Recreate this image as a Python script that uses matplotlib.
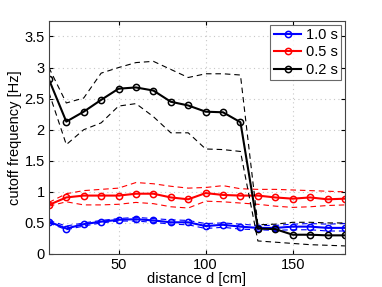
import numpy as np
import matplotlib
matplotlib.use("Agg")
import matplotlib.pyplot as plt

plt.rcParams['font.family'] = ['Liberation Sans', 'DejaVu Sans']

# distance d [cm]
distance = [10, 20, 30, 40, 50, 60, 70, 80, 90, 100, 110, 120, 130, 140, 150, 160, 170, 180]

# 1.0 s window
blue_mean = [0.52, 0.41, 0.48, 0.52, 0.55, 0.56, 0.54, 0.51, 0.51, 0.45, 0.47, 0.44, 0.42, 0.42, 0.44, 0.44, 0.42, 0.42]
blue_upper = [0.54, 0.45, 0.50, 0.54, 0.57, 0.59, 0.57, 0.55, 0.54, 0.49, 0.50, 0.48, 0.46, 0.46, 0.48, 0.49, 0.48, 0.49]
blue_lower = [0.50, 0.39, 0.45, 0.50, 0.53, 0.53, 0.51, 0.48, 0.47, 0.41, 0.43, 0.40, 0.39, 0.38, 0.39, 0.39, 0.37, 0.37]

# 0.5 s window
red_mean = [0.79, 0.91, 0.94, 0.94, 0.94, 0.97, 0.97, 0.91, 0.88, 0.98, 0.95, 0.94, 0.94, 0.91, 0.89, 0.91, 0.88, 0.89]
red_upper = [0.83, 0.97, 1.02, 1.04, 1.06, 1.15, 1.13, 1.09, 1.06, 1.07, 1.10, 1.05, 1.04, 1.04, 1.03, 1.02, 1.01, 1.00]
red_lower = [0.77, 0.84, 0.79, 0.79, 0.80, 0.83, 0.81, 0.76, 0.74, 0.85, 0.84, 0.82, 0.80, 0.77, 0.75, 0.76, 0.78, 0.79]

# 0.2 s window
black_mean = [2.81, 2.13, 2.29, 2.48, 2.66, 2.68, 2.63, 2.45, 2.39, 2.29, 2.28, 2.12, 0.41, 0.40, 0.31, 0.31, 0.30, 0.30]
black_upper = [3.00, 2.43, 2.51, 2.91, 3.00, 3.08, 3.10, 2.97, 2.84, 2.90, 2.90, 2.88, 0.47, 0.48, 0.51, 0.51, 0.50, 0.50]
black_lower = [2.60, 1.76, 2.00, 2.11, 2.38, 2.42, 2.21, 1.95, 1.95, 1.69, 1.68, 1.65, 0.21, 0.19, 0.17, 0.15, 0.14, 0.13]

labels = ['1.0 s', '0.5 s', '0.2 s']

fig = plt.figure(figsize=(3.82, 2.87), dpi=100)
ax = fig.add_axes([0.128, 0.115, 0.775, 0.812])

series = [
    (blue_mean, blue_upper, blue_lower, '#0000ff'),
    (red_mean, red_upper, red_lower, '#ff0000'),
    (black_mean, black_upper, black_lower, '#000000'),
]

for (mean, up, lo, col), lab in zip(series, labels):
    ax.plot(distance, up, color=col, lw=0.8, dashes=(5, 3.5))
    ax.plot(distance, lo, color=col, lw=0.8, dashes=(5, 3.5))
    ax.plot(distance, mean, '-o', color=col, lw=1.5, ms=4.5, mfc='none', mew=1.1, label=lab)

ax.set_xlim(10, 180)
ax.set_ylim(0, 3.75)
ax.set_xticks([50, 100, 150])
ax.set_yticks([0, 0.5, 1, 1.5, 2, 2.5, 3, 3.5])
ax.set_yticklabels(['0', '0.5', '1', '1.5', '2', '2.5', '3', '3.5'])
ax.grid(True, linestyle=(0, (1, 3)), color='#c8c8c8', lw=0.8)
ax.tick_params(direction='in', labelsize=10.5, length=3, top=True, right=True, pad=3)
for s in ax.spines.values():
    s.set_color('#444444')

ax.set_xlabel('distance d [cm]', fontsize=10.5, labelpad=0)
ax.set_ylabel('cutoff frequency [Hz]', fontsize=10.5, labelpad=2)

leg = ax.legend(loc='upper right', fontsize=10.5, frameon=True, fancybox=False,
                edgecolor='#444444', handlelength=1.9, borderpad=0.25,
                labelspacing=0.22, handletextpad=0.3, borderaxespad=0.25)
leg.get_frame().set_linewidth(0.8)

fig.savefig('out.png', dpi=100)
